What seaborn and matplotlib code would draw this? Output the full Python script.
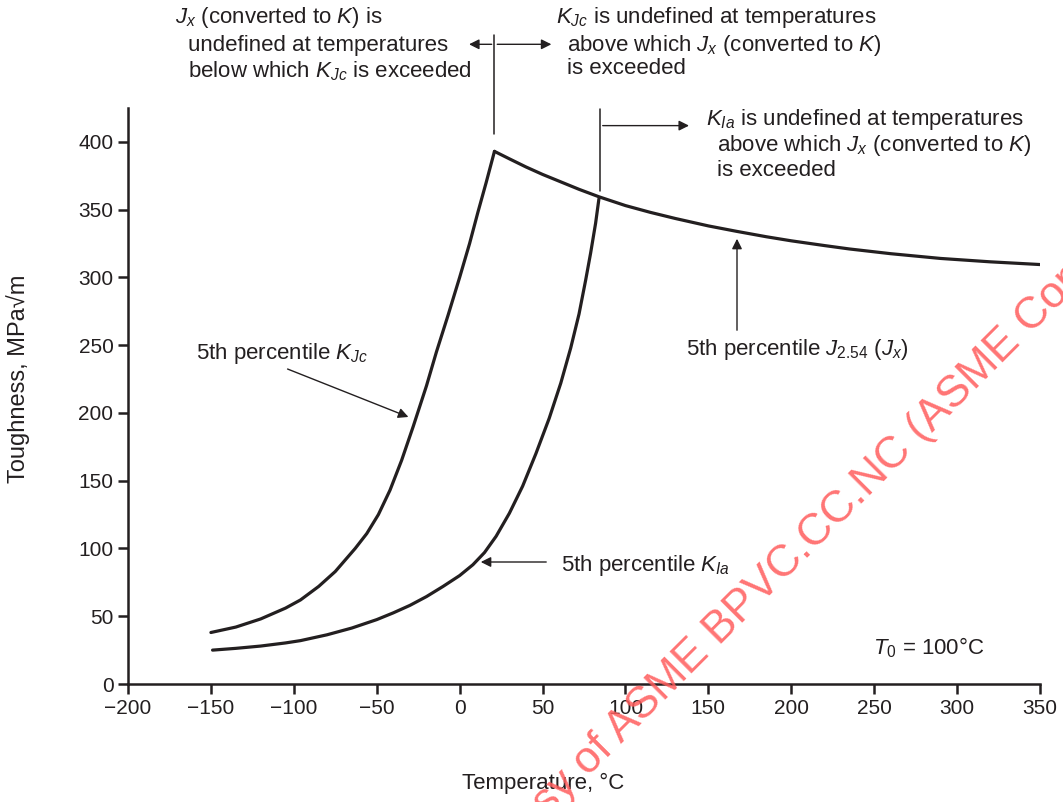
import matplotlib
matplotlib.use("Agg")
import matplotlib.pyplot as plt
import seaborn as sns
import pandas as pd

# --- values ---
kjc_temp = [-150, -135, -120, -105, -96, -85, -75, -63, -56, -49, -42, -35, -28,
            -20, -14, -7, 0, 6, 11, 16, 21]
kjc_tough = [38, 42, 48, 56, 62, 72, 83, 100, 111, 125, 143, 165, 190,
             220, 245, 272, 300, 325, 348, 370, 393]

kia_temp = [-149, -135, -120, -105, -96, -80, -65, -50, -40, -30, -20, -10, 0, 8, 15,
            22, 30, 38, 46, 54, 61, 67, 72, 76, 79, 82, 84]
kia_tough = [25, 26.3, 28, 30.3, 32, 36.3, 41.3, 47.5, 52.5, 58, 64.5, 72, 80, 88, 97,
             109, 126, 146, 170, 196, 222, 248, 273, 298, 318, 340, 358]

jx_temp = [21, 30, 40, 50, 60, 72, 84, 100, 115, 130, 150, 167, 185, 200, 220, 235,
           260, 290, 320, 350]
jx_tough = [393, 387.5, 381.5, 376, 371, 365, 359.5, 353, 348, 343.5, 338, 334, 330,
            327, 323.5, 321, 317.5, 314, 311.5, 309.5]

x_ticks = [-200, -150, -100, -50, 0, 50, 100, 150, 200, 250, 300, 350]
y_ticks = [0, 50, 100, 150, 200, 250, 300, 350, 400]

INK = "#231f20"

sns.set_style("ticks")
plt.rcParams["font.family"] = ["Liberation Sans", "DejaVu Sans"]
plt.rcParams["mathtext.fontset"] = "custom"
plt.rcParams["mathtext.it"] = "Liberation Sans:italic"
plt.rcParams["mathtext.rm"] = "Liberation Sans"

fig = plt.figure(figsize=(10.63, 8.02), dpi=100)
ax = fig.add_axes([128 / 1063, 1 - 684 / 802, 912 / 1063, 576 / 802])

df_kjc = pd.DataFrame({"T": kjc_temp, "K": kjc_tough})
df_kia = pd.DataFrame({"T": kia_temp, "K": kia_tough})
df_jx = pd.DataFrame({"T": jx_temp, "K": jx_tough})
for d in (df_kjc, df_kia, df_jx):
    sns.lineplot(data=d, x="T", y="K", ax=ax, color=INK, lw=2.3, sort=False)

ax.set_xlim(-200, 350)
ax.set_ylim(0, 425)
ax.set_xticks(x_ticks)
ax.set_yticks(y_ticks)
ax.tick_params(labelsize=15, colors=INK, length=7, width=1.8)
for s in ("left", "bottom"):
    ax.spines[s].set_linewidth(1.8)
    ax.spines[s].set_color(INK)
sns.despine(ax=ax)

ax.set_xlabel("Temperature, °C", fontsize=16, color=INK)
ax.xaxis.set_label_coords((543 - 128) / 912, -(773 - 684) / 576)
ax.set_ylabel("Toughness, MPa√m", fontsize=17, color=INK)
ax.yaxis.set_label_coords(-(128 - 30) / 912, 0.53)

# reference lines / arrows outside the axes
ax.plot([21, 21], [406, 479], color=INK, lw=1.1, clip_on=False)
ax.plot([84.6, 84.6], [364, 424], color=INK, lw=1.1, clip_on=False)
harrow = dict(arrowstyle="-|>", color=INK, lw=1.0, mutation_scale=15)
ax.annotate("", xy=(4, 472), xytext=(21, 472), arrowprops=harrow, annotation_clip=False)
ax.annotate("", xy=(57, 472), xytext=(21, 472), arrowprops=harrow, annotation_clip=False)
ax.annotate("", xy=(140, 412), xytext=(84.6, 412), arrowprops=harrow, annotation_clip=False)

fs = 16
kw = dict(fontsize=fs, color=INK, va="center", ha="left", annotation_clip=False)

def px(x, y):
    return ((x - 128) / 912, (684 - y) / 576)

for txt, (x, y) in [
    (r"$J_x$ (converted to $K$) is", (175, 18)),
    ("undefined at temperatures", (188, 45)),
    (r"below which $K_{Jc}$ is exceeded", (188, 71)),
    (r"$K_{Jc}$ is undefined at temperatures", (556, 18)),
    (r"above which $J_x$ (converted to $K$)", (567, 45)),
    ("is exceeded", (567, 68)),
    (r"$K_{Ia}$ is undefined at temperatures", (706, 120)),
    (r"above which $J_x$ (converted to $K$)", (717, 146)),
    ("is exceeded", (717, 170)),
    (r"5th percentile $K_{Jc}$", (196, 354)),
    (r"5th percentile $K_{Ia}$", (561, 566)),
    (r"5th percentile $J_{2.54}$ ($J_x$)", (686, 350)),
    (r"$T_0$ = 100°C", (873, 648)),
]:
    ax.annotate(txt, xy=px(x, y), xycoords="axes fraction", **kw)

arrow = dict(arrowstyle="-|>", color=INK, lw=1.0, mutation_scale=15)
ax.annotate("", xy=px(411, 418), xycoords="axes fraction",
            xytext=px(285, 368), textcoords="axes fraction", arrowprops=arrow)
ax.annotate("", xy=px(478, 562), xycoords="axes fraction",
            xytext=px(549, 562), textcoords="axes fraction", arrowprops=arrow)
ax.annotate("", xy=px(737, 236), xycoords="axes fraction",
            xytext=px(737, 333), textcoords="axes fraction", arrowprops=arrow)

# watermark
fig.text(454 / 1063, 1 - 912 / 802, "Courtesy of ASME BPVC.CC.NC (ASME Copyright)",
         rotation=45, rotation_mode="anchor", ha="left", va="baseline",
         fontsize=32, color="#ff5c5c", alpha=0.85)

fig.savefig("out.png", dpi=100)
